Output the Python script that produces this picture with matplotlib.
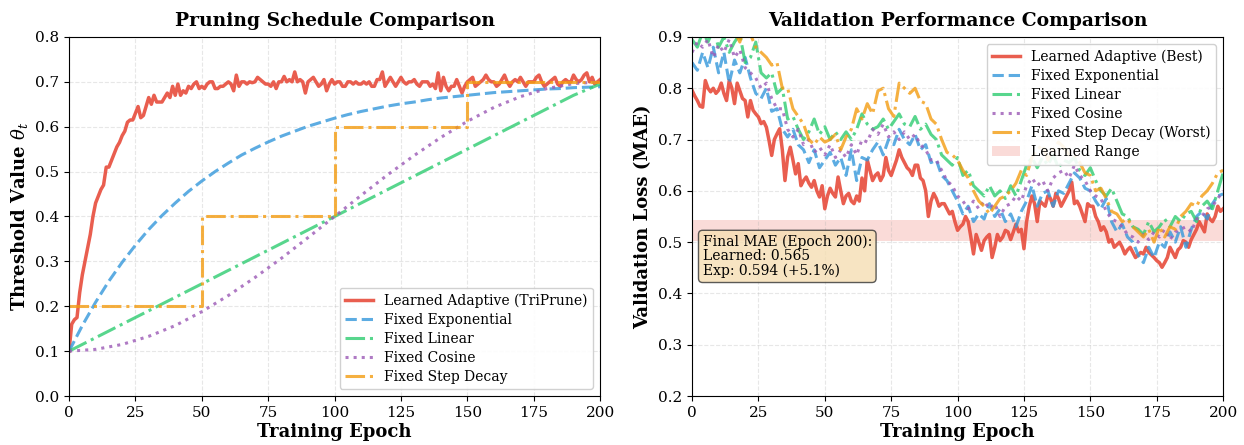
import numpy as np
import matplotlib
matplotlib.use("Agg")
import matplotlib.pyplot as plt

plt.rcParams['font.family'] = ['DejaVu Serif']
plt.rcParams['mathtext.fontset'] = 'dejavuserif'

# ---------------- Left panel data ----------------
epochs_1 = list(range(0, 201))
epochs_2 = list(range(0, 201, 2))
epochs_5 = list(range(0, 201, 5))
epochs_10 = list(range(0, 201, 10))
epochs_step = [0, 50, 100, 150, 200]

learned_schedule = [
    0.10, 0.16, 0.17, 0.175, 0.23, 0.27, 0.30, 0.33, 0.36, 0.40,
    0.43, 0.445, 0.46, 0.47, 0.51, 0.51, 0.525, 0.54, 0.555, 0.565,
    0.58, 0.59, 0.61, 0.615, 0.615, 0.63, 0.645, 0.62, 0.625, 0.645,
    0.665, 0.65, 0.67, 0.655, 0.655, 0.655, 0.665, 0.675, 0.665, 0.69,
    0.67, 0.695, 0.67, 0.68, 0.675, 0.69, 0.685, 0.695, 0.70, 0.685,
    0.69, 0.685, 0.695, 0.70, 0.70, 0.685, 0.685, 0.69, 0.69, 0.695,
    0.70, 0.695, 0.68, 0.715, 0.69, 0.70, 0.70, 0.695, 0.70, 0.698,
    0.70, 0.71, 0.705, 0.70, 0.695, 0.695, 0.69, 0.70, 0.685, 0.70,
    0.70, 0.712, 0.70, 0.705, 0.70, 0.722, 0.70, 0.705, 0.70, 0.675,
    0.70, 0.705, 0.71, 0.70, 0.69, 0.695, 0.705, 0.68, 0.695, 0.705,
    0.695, 0.70, 0.70, 0.69, 0.69, 0.70, 0.70, 0.695, 0.70, 0.695,
    0.695, 0.70, 0.695, 0.70, 0.69, 0.69, 0.705, 0.705, 0.722, 0.69,
    0.70, 0.71, 0.70, 0.69, 0.70, 0.71, 0.70, 0.695, 0.70, 0.70,
    0.705, 0.695, 0.69, 0.70, 0.70, 0.70, 0.69, 0.695, 0.685, 0.72,
    0.68, 0.71, 0.69, 0.68, 0.69, 0.69, 0.705, 0.69, 0.675, 0.69,
    0.70, 0.705, 0.71, 0.69, 0.695, 0.70, 0.705, 0.715, 0.705, 0.70,
    0.70, 0.69, 0.695, 0.705, 0.715, 0.70, 0.69, 0.70, 0.705, 0.70,
    0.71, 0.70, 0.69, 0.70, 0.70, 0.70, 0.71, 0.715, 0.70, 0.69,
    0.695, 0.70, 0.705, 0.71, 0.695, 0.69, 0.70, 0.705, 0.70, 0.70,
    0.715, 0.705, 0.70, 0.705, 0.715, 0.72, 0.70, 0.71, 0.695, 0.70,
    0.705]

exp_schedule = [
    0.100, 0.157, 0.209, 0.256, 0.298, 0.336, 0.371, 0.402, 0.430, 0.456,
    0.479, 0.500, 0.519, 0.537, 0.552, 0.566, 0.579, 0.590, 0.601, 0.610,
    0.619, 0.627, 0.634, 0.640, 0.646, 0.651, 0.655, 0.660, 0.664, 0.667,
    0.670, 0.673, 0.676, 0.678, 0.680, 0.682, 0.684, 0.685, 0.687, 0.688,
    0.689]

linear_schedule = [0.100, 0.130, 0.160, 0.190, 0.220, 0.250, 0.280, 0.310,
                   0.340, 0.370, 0.400, 0.430, 0.460, 0.490, 0.520, 0.550,
                   0.580, 0.610, 0.640, 0.670, 0.695]

cosine_schedule = [0.100, 0.104, 0.115, 0.133, 0.157, 0.188, 0.224, 0.264,
                   0.307, 0.353, 0.400, 0.447, 0.493, 0.536, 0.576, 0.612,
                   0.643, 0.667, 0.685, 0.696, 0.700]

step_schedule = [0.2, 0.4, 0.6, 0.7, 0.7]

# ---------------- Right panel data ----------------
val_learned = [
    0.796, 0.785, 0.776, 0.765, 0.763, 0.815, 0.80, 0.793, 0.80, 0.79,
    0.796, 0.81, 0.79, 0.776, 0.815, 0.80, 0.77, 0.81, 0.795, 0.78,
    0.776, 0.744, 0.776, 0.757, 0.75, 0.744, 0.731, 0.735, 0.724, 0.698,
    0.669, 0.70, 0.711, 0.721, 0.68, 0.62, 0.666, 0.685, 0.66, 0.633,
    0.653, 0.61, 0.62, 0.627, 0.615, 0.607, 0.62, 0.60, 0.588, 0.61,
    0.565, 0.59, 0.605, 0.595, 0.588, 0.627, 0.60, 0.575, 0.59, 0.595,
    0.58, 0.575, 0.59, 0.58, 0.625, 0.60, 0.66, 0.64, 0.62, 0.63,
    0.635, 0.62, 0.63, 0.665, 0.64, 0.63, 0.645, 0.66, 0.68, 0.665,
    0.655, 0.645, 0.64, 0.63, 0.65, 0.65, 0.625, 0.62, 0.60, 0.55,
    0.58, 0.595, 0.585, 0.57, 0.575, 0.575, 0.565, 0.555, 0.56, 0.54,
    0.523, 0.53, 0.535, 0.55, 0.54, 0.51, 0.477, 0.515, 0.50, 0.484,
    0.503, 0.51, 0.515, 0.47, 0.49, 0.515, 0.503, 0.51, 0.523, 0.52,
    0.505, 0.52, 0.535, 0.52, 0.525, 0.487, 0.54, 0.57, 0.59, 0.575,
    0.54, 0.58, 0.575, 0.57, 0.59, 0.585, 0.57, 0.595, 0.585, 0.57,
    0.58, 0.59, 0.60, 0.617, 0.575, 0.58, 0.57, 0.555, 0.54, 0.575,
    0.57, 0.57, 0.55, 0.54, 0.523, 0.53, 0.52, 0.50, 0.505, 0.49,
    0.495, 0.50, 0.49, 0.477, 0.485, 0.49, 0.48, 0.47, 0.475, 0.48,
    0.477, 0.49, 0.48, 0.475, 0.47, 0.464, 0.46, 0.451, 0.46, 0.47,
    0.49, 0.48, 0.47, 0.485, 0.49, 0.503, 0.50, 0.49, 0.505, 0.515,
    0.525, 0.54, 0.53, 0.52, 0.555, 0.545, 0.54, 0.55, 0.57, 0.56,
    0.565]

val_exp = [
    0.85, 0.835, 0.87, 0.84, 0.88, 0.83, 0.87, 0.81, 0.855, 0.83,
    0.86, 0.82, 0.79, 0.78, 0.80, 0.755, 0.76, 0.72, 0.705, 0.72,
    0.69, 0.68, 0.655, 0.68, 0.645, 0.66, 0.675, 0.65, 0.665, 0.63,
    0.68, 0.62, 0.665, 0.66, 0.68, 0.695, 0.67, 0.70, 0.69, 0.72,
    0.70, 0.69, 0.71, 0.68, 0.69, 0.655, 0.66, 0.63, 0.62, 0.60,
    0.58, 0.555, 0.57, 0.54, 0.555, 0.545, 0.575, 0.55, 0.565, 0.54,
    0.555, 0.53, 0.56, 0.58, 0.61, 0.57, 0.595, 0.60, 0.57, 0.60,
    0.595, 0.615, 0.635, 0.625, 0.605, 0.60, 0.58, 0.565, 0.585, 0.54,
    0.52, 0.535, 0.51, 0.50, 0.475, 0.46, 0.49, 0.47, 0.50, 0.49,
    0.52, 0.50, 0.53, 0.49, 0.525, 0.55, 0.56, 0.545, 0.575, 0.59,
    0.594]

val_linear = [
    0.895, 0.88, 0.91, 0.89, 0.915, 0.88, 0.90, 0.87, 0.89, 0.905,
    0.85, 0.86, 0.89, 0.83, 0.82, 0.83, 0.79, 0.80, 0.74, 0.745,
    0.72, 0.70, 0.715, 0.74, 0.71, 0.725, 0.70, 0.715, 0.70, 0.715,
    0.70, 0.72, 0.75, 0.73, 0.72, 0.725, 0.74, 0.72, 0.735, 0.75,
    0.73, 0.725, 0.745, 0.72, 0.73, 0.71, 0.70, 0.67, 0.66, 0.65,
    0.665, 0.63, 0.64, 0.61, 0.60, 0.59, 0.61, 0.59, 0.60, 0.585,
    0.61, 0.59, 0.62, 0.65, 0.665, 0.645, 0.665, 0.65, 0.67, 0.645,
    0.66, 0.655, 0.665, 0.64, 0.63, 0.645, 0.62, 0.60, 0.59, 0.605,
    0.58, 0.555, 0.55, 0.53, 0.525, 0.515, 0.54, 0.52, 0.53, 0.545,
    0.53, 0.55, 0.54, 0.555, 0.56, 0.54, 0.57, 0.58, 0.565, 0.60,
    0.635]

val_cosine = [
    0.87, 0.89, 0.88, 0.895, 0.86, 0.885, 0.87, 0.895, 0.86, 0.875,
    0.84, 0.83, 0.82, 0.80, 0.81, 0.78, 0.76, 0.76, 0.72, 0.705,
    0.72, 0.69, 0.70, 0.675, 0.685, 0.67, 0.69, 0.665, 0.68, 0.665,
    0.69, 0.67, 0.70, 0.695, 0.72, 0.71, 0.73, 0.705, 0.715, 0.70,
    0.715, 0.70, 0.71, 0.69, 0.68, 0.66, 0.66, 0.64, 0.62, 0.61,
    0.59, 0.58, 0.565, 0.58, 0.565, 0.58, 0.565, 0.575, 0.55, 0.57,
    0.575, 0.59, 0.58, 0.61, 0.625, 0.61, 0.62, 0.60, 0.625, 0.635,
    0.64, 0.625, 0.65, 0.63, 0.62, 0.60, 0.59, 0.585, 0.56, 0.545,
    0.54, 0.53, 0.515, 0.51, 0.50, 0.515, 0.505, 0.52, 0.51, 0.525,
    0.505, 0.52, 0.525, 0.53, 0.52, 0.545, 0.55, 0.565, 0.57, 0.585,
    0.60]

val_step = [
    0.93, 0.92, 0.94, 0.925, 0.93, 0.915, 0.905, 0.92, 0.91, 0.89,
    0.925, 0.905, 0.88, 0.87, 0.86, 0.845, 0.85, 0.80, 0.80, 0.76,
    0.745, 0.73, 0.70, 0.69, 0.705, 0.695, 0.70, 0.71, 0.68, 0.705,
    0.72, 0.76, 0.74, 0.77, 0.75, 0.795, 0.80, 0.76, 0.745, 0.81,
    0.80, 0.79, 0.80, 0.775, 0.77, 0.74, 0.73, 0.70, 0.675, 0.67,
    0.66, 0.64, 0.625, 0.60, 0.58, 0.57, 0.555, 0.57, 0.585, 0.59,
    0.60, 0.615, 0.64, 0.63, 0.665, 0.68, 0.69, 0.66, 0.68, 0.695,
    0.685, 0.67, 0.67, 0.655, 0.635, 0.63, 0.60, 0.605, 0.585, 0.56,
    0.555, 0.54, 0.545, 0.53, 0.52, 0.51, 0.525, 0.50, 0.53, 0.51,
    0.53, 0.525, 0.55, 0.56, 0.575, 0.57, 0.59, 0.60, 0.615, 0.635,
    0.64]

learned_range = [0.502, 0.544]
final_text = "Final MAE (Epoch 200):\nLearned: 0.565\nExp: 0.594 (+5.1%)"

# ---------------- Styling ----------------
C_RED = '#E74C3C'
C_BLUE = '#3498DB'
C_GREEN = '#2ECC71'
C_PURPLE = '#9B59B6'
C_ORANGE = '#F39C12'

fig = plt.figure(figsize=(12.44, 4.45), dpi=100)
ax1 = fig.add_axes([0.0555, 0.110, 0.4269, 0.807])
ax2 = fig.add_axes([0.5563, 0.110, 0.4269, 0.807])

# Left
ax1.plot(epochs_1, learned_schedule, color=C_RED, lw=2.5, alpha=0.9,
         label='Learned Adaptive (TriPrune)')
ax1.plot(epochs_5, exp_schedule, color=C_BLUE, lw=2.2, ls='--', alpha=0.8,
         label='Fixed Exponential')
ax1.plot(epochs_10, linear_schedule, color=C_GREEN, lw=2.2, ls='-.', alpha=0.8,
         label='Fixed Linear')
ax1.plot(epochs_10, cosine_schedule, color=C_PURPLE, lw=2.2, ls=':', alpha=0.8,
         label='Fixed Cosine')
ax1.plot(epochs_step, step_schedule, color=C_ORANGE, lw=2.2, ls='-.', alpha=0.8,
         drawstyle='steps-post', label='Fixed Step Decay')
ax1.set_xlim(0, 200)
ax1.set_ylim(0, 0.8)
ax1.set_xticks(range(0, 201, 25))
ax1.set_xlabel('Training Epoch', fontsize=13, fontweight='bold', labelpad=2)
ax1.set_ylabel(r'Threshold Value $\theta_t$', fontsize=13, fontweight='bold')
ax1.set_title('Pruning Schedule Comparison', fontsize=13.5, fontweight='bold', pad=8)
ax1.grid(True, ls='--', alpha=0.3)
ax1.tick_params(labelsize=11)
ax1.legend(loc='lower right', fontsize=10, framealpha=0.9, labelspacing=0.36)

# Right
ax2.plot(epochs_1, val_learned, color=C_RED, lw=2.5, alpha=0.9,
         label='Learned Adaptive (Best)')
ax2.plot(epochs_2, val_exp, color=C_BLUE, lw=2.2, ls='--', alpha=0.8,
         label='Fixed Exponential')
ax2.plot(epochs_2, val_linear, color=C_GREEN, lw=2.2, ls='-.', alpha=0.8,
         label='Fixed Linear')
ax2.plot(epochs_2, val_cosine, color=C_PURPLE, lw=2.2, ls=':', alpha=0.8,
         label='Fixed Cosine')
ax2.plot(epochs_2, val_step, color=C_ORANGE, lw=2.2, ls='-.', alpha=0.8,
         label='Fixed Step Decay (Worst)')
ax2.axhspan(learned_range[0], learned_range[1], color=C_RED, alpha=0.2, lw=0,
            label='Learned Range')
ax2.set_xlim(0, 200)
ax2.set_ylim(0.2, 0.9)
ax2.set_xticks(range(0, 201, 25))
ax2.set_xlabel('Training Epoch', fontsize=13, fontweight='bold', labelpad=2)
ax2.set_ylabel('Validation Loss (MAE)', fontsize=13, fontweight='bold')
ax2.set_title('Validation Performance Comparison', fontsize=13.5, fontweight='bold', pad=8)
ax2.grid(True, ls='--', alpha=0.3)
ax2.tick_params(labelsize=11)
ax2.legend(loc='upper right', fontsize=10, framealpha=0.9, labelspacing=0.36)
ax2.text(0.02, 0.45, final_text, transform=ax2.transAxes, fontsize=10,
         va='top', ha='left', linespacing=1.05,
         bbox=dict(boxstyle='round,pad=0.3', facecolor='wheat', alpha=0.8,
                   edgecolor='#333333'))

fig.savefig('out.png', dpi=100)
